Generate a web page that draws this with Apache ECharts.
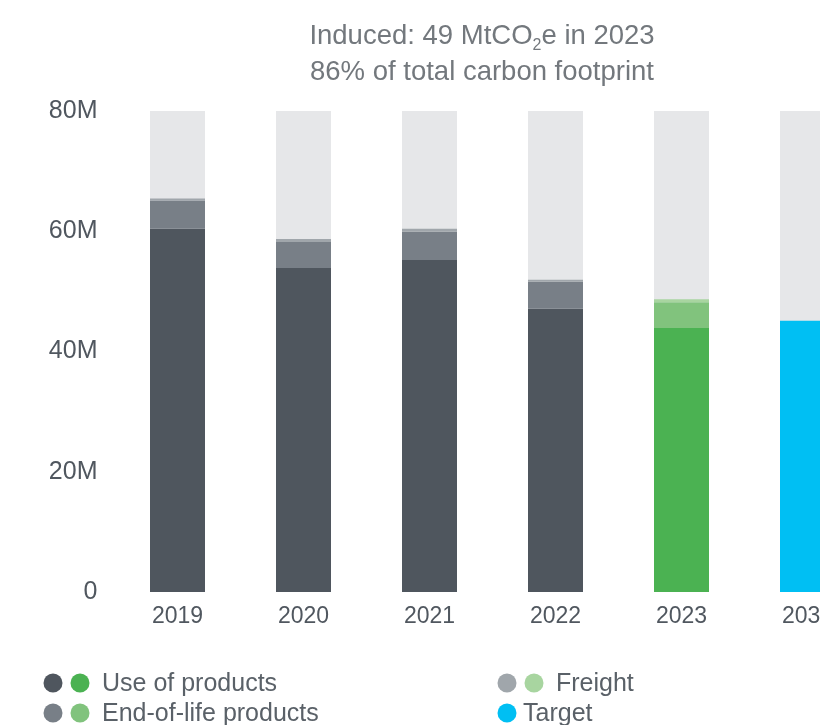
<!DOCTYPE html>
<html>
<head>
<meta charset="utf-8">
<script src="https://cdn.jsdelivr.net/npm/echarts@6/dist/echarts.min.js"></script>
<style>html,body{margin:0;padding:0;background:#fff;}#c{width:820px;height:725px;}</style>
</head>
<body>
<div id="c"></div>
<script>
var categories = ['2019', '2020', '2021', '2022', '2023', '2030'];
var useOfProducts = [60.4, 53.9, 55.2, 47.1, 43.9, null];
var endOfLife = [4.7, 4.3, 4.7, 4.5, 4.3, null];
var freight = [0.35, 0.5, 0.5, 0.35, 0.5, null];
var target = [null, null, null, null, null, 45.1];
var backgroundValues = [80, 80, 80, 80, 80, 80];
var yTicks = [0, 20, 40, 60, 80];

var greyColors = { use: '#4f565e', eol: '#787f87', freight: '#a0a6ab' };
var greenColors = { use: '#4bb252', eol: '#81c37d', freight: '#a8d5a0' };
var highlightYear = '2023';

function build(values, key) {
  return values.map(function (v, i) {
    var c = categories[i] === highlightYear ? greenColors[key] : greyColors[key];
    return { value: v, itemStyle: { color: c } };
  });
}

var font = '"Liberation Sans", Arial, sans-serif';
var chart = echarts.init(document.getElementById('c'));
var option = {
  animation: false,
  title: {
    text: 'Induced: 49 MtCO{sub|2}e in 2023\n86% of total carbon footprint',
    left: 477,
    textAlign: 'center',
    top: 13,
    textStyle: {
      fontFamily: font,
      fontWeight: 'normal',
      fontSize: 27.5,
      color: '#73787d',
      lineHeight: 36,
      rich: {
        sub: { fontFamily: font, fontWeight: 'normal', fontSize: 16, color: '#73787d', verticalAlign: 'bottom', padding: [15, 0, 0, 0], lineHeight: 36 }
      }
    }
  },
  grid: { left: 114.5, width: 756, top: 111, bottom: 133, outerBoundsMode: 'none', containLabel: false },
  xAxis: {
    type: 'category',
    data: categories,
    axisLine: { show: false },
    axisTick: { show: false },
    axisLabel: { fontFamily: font, fontSize: 23, color: '#50575f', margin: 13 }
  },
  yAxis: {
    type: 'value',
    min: 0,
    max: 80,
    interval: 20,
    splitLine: { show: false },
    axisLine: { show: false },
    axisTick: { show: false },
    axisLabel: {
      fontFamily: font, fontSize: 25, color: '#50575f', margin: 17,
      formatter: function (v) { return v === 0 ? '0' : v + 'M'; }
    }
  },
  series: [
    { name: 'bg', type: 'bar', data: backgroundValues, barWidth: 55, barGap: '-100%', itemStyle: { color: '#e6e7e9' }, z: 1, silent: true },
    { name: 'Use of products', type: 'bar', stack: 't', data: build(useOfProducts, 'use'), barWidth: 55, z: 2 },
    { name: 'End-of-life products', type: 'bar', stack: 't', data: build(endOfLife, 'eol'), barWidth: 55, z: 2 },
    { name: 'Freight', type: 'bar', stack: 't', data: build(freight, 'freight'), barWidth: 55, z: 2 },
    { name: 'Target', type: 'bar', stack: 't', data: target, barWidth: 55, itemStyle: { color: '#00bff3' }, z: 2 }
  ],
  graphic: [
    { type: 'circle', shape: { cx: 53, cy: 683, r: 9.5 }, style: { fill: '#4f565e' } },
    { type: 'circle', shape: { cx: 80, cy: 683, r: 9.5 }, style: { fill: '#4bb252' } },
    { type: 'text', x: 102, y: 684, style: { text: 'Use of products', font: '25px ' + font, fill: '#5a6168', verticalAlign: 'middle' } },
    { type: 'circle', shape: { cx: 53, cy: 713, r: 9.5 }, style: { fill: '#787f87' } },
    { type: 'circle', shape: { cx: 80, cy: 713, r: 9.5 }, style: { fill: '#81c37d' } },
    { type: 'text', x: 102, y: 714, style: { text: 'End-of-life products', font: '25px ' + font, fill: '#5a6168', verticalAlign: 'middle' } },
    { type: 'circle', shape: { cx: 507, cy: 683, r: 9.5 }, style: { fill: '#a0a6ab' } },
    { type: 'circle', shape: { cx: 534, cy: 683, r: 9.5 }, style: { fill: '#a8d5a0' } },
    { type: 'text', x: 556, y: 684, style: { text: 'Freight', font: '25px ' + font, fill: '#5a6168', verticalAlign: 'middle' } },
    { type: 'circle', shape: { cx: 507, cy: 713, r: 9.5 }, style: { fill: '#00bff3' } },
    { type: 'text', x: 523, y: 714, style: { text: 'Target', font: '25px ' + font, fill: '#5a6168', verticalAlign: 'middle' } }
  ]
};
chart.setOption(option);
</script>
</body>
</html>
